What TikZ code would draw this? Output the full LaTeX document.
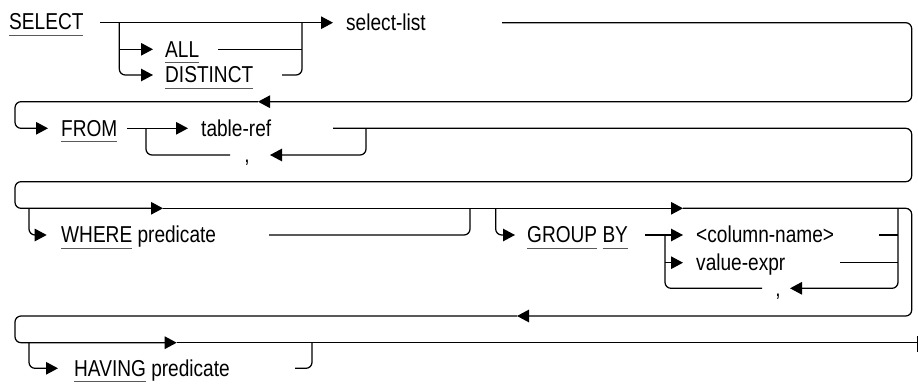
\documentclass[tikz,border=0pt]{standalone}
\usepackage{fontspec}
\setmainfont{Liberation Sans}[FakeStretch=0.83]
\usetikzlibrary{arrows.meta,calc}
\newcommand\kw[1]{\setbox0\hbox{#1}\rlap{\textcolor{black!65}{\rule[-6.2pt]{\wd0}{0.9pt}}}\box0\relax}
\tikzset{
  ln/.style={line width=1.25pt, draw=black},
  rc/.style={rounded corners=6pt},
  arr/.style={-{Triangle[length=12pt,width=12.5pt]}},
  txt/.style={anchor=base west, inner sep=0pt, font=\fontsize{23}{27}\selectfont},
  cmt/.style={anchor=base, inner sep=0pt, font=\fontsize{23}{27}\selectfont}
}
\begin{document}
\begin{tikzpicture}[x=1pt,y=-1pt]
\useasboundingbox (0,0) rectangle (918,383);
% ---------- texts
\node[txt] (tselect) at (9,29.3) {\kw{SELECT}};
\node[txt] (tsl) at (346,30.5) {select-list};
\node[txt] (tall) at (165,57.1) {\kw{ALL}};
\node[txt] (tdist) at (165,82.8) {\kw{DISTINCT}};
\node[txt] (tfrom) at (61,136.1) {\kw{FROM}};
\node[txt] (ttr) at (201,136.1) {table-ref};
\node[cmt] (tc1) at (247,162.8) {,};
\node[txt] (twhere) at (61,242.8) {\kw{WHERE} predicate};
\node[txt] (tgroup) at (527,242.8) {\kw{GROUP} \kw{BY}};
\node[txt] (tcn) at (696,242.8) {<column-name>};
\node[txt] (tve) at (696,270.5) {value-expr};
\node[cmt] (tc2) at (778,296.1) {,};
\node[txt] (thaving) at (74,376.1) {\kw{HAVING} predicate};
% ---------- coordinates row 1
\coordinate (s0) at (100,22.7);
\coordinate (sa) at (333,22.7);
\coordinate (b1) at (119.3,22.7);
\coordinate (allA) at (153,49.3);
\coordinate (disA) at (153,75);
\coordinate (allE) at (218,49.3);
\coordinate (disE) at (282,75);
\coordinate (r1) at (302,22.7);
\coordinate (slE) at (502,22.7);
\coordinate (R1b) at (911.7,101.7);
\coordinate (ret1) at (258,101.7);
\coordinate (c1) at (15,101.7);
\coordinate (fromA) at (48,128.3);
% row 2
\coordinate (fromE) at (127,128.3);
\coordinate (trA) at (188,128.3);
\coordinate (lp1) at (146,128.3);
\coordinate (cm1L) at (230,155);
\coordinate (trE) at (333,128.3);
\coordinate (lp2) at (366,128.3);
\coordinate (cm1A) at (270,155);
\coordinate (R2b) at (911.7,181.7);
\coordinate (c2) at (15,181.7);
\coordinate (wA) at (163,208.3);
% row 3
\coordinate (wbr) at (29,208.3);
\coordinate (whA) at (46.7,235);
\coordinate (whE) at (269,235);
\coordinate (wR) at (470,208.3);
\coordinate (gbr) at (495.7,208.3);
\coordinate (gA) at (515,235);
\coordinate (gE) at (645,235);
\coordinate (cnA) at (683,235);
\coordinate (vbr) at (665,235);
\coordinate (veA) at (683,262.7);
\coordinate (cm2L) at (762,288.3);
\coordinate (ivr) at (898,208.3);
\coordinate (cm2A) at (790,288.3);
\coordinate (cnE) at (879,235);
\coordinate (veE) at (840,262.7);
\coordinate (mA) at (683,208.3);
\coordinate (R3b) at (911.7,316);
\coordinate (ret3) at (517,316);
\coordinate (c3) at (15,316);
\coordinate (hA) at (176.7,342.7);
\coordinate (endp) at (917.3,342.7);
\coordinate (endT) at (917.3,336);
\coordinate (endB) at (917.3,351.7);
% row 4
\coordinate (hbr) at (29,342.7);
\coordinate (haA) at (58,368.3);
\coordinate (haE) at (295,368.3);
\coordinate (hR) at (312,342.7);
% ---------- row 1
\draw[ln,arr] (s0) -- (sa);
\draw[ln,rc,arr] (b1) |- (disA);
\draw[ln,arr] (b1 |- allA) -- (allA);
\draw[ln,rc] (disE) -| (r1);
\draw[ln] (allE) -- (allE -| r1);
\draw[ln,rc,arr] (slE) -| (R1b) -- (ret1);
\draw[ln,rc,arr] (ret1) -- (c1) |- (fromA);
% ---------- row 2
\draw[ln,arr] (fromE) -- (trA);
\draw[ln,rc] (lp1) |- (cm1L);
\draw[ln,rc,arr] (lp2) |- (cm1A);
\draw[ln,rc,arr] (trE) -| (R2b) -- (c2) |- (wA);
% ---------- row 3
\draw[ln,rc,arr] (wbr) |- (whA);
\draw[ln,rc] (whE) -| (wR);
\draw[ln,rc,arr] (gbr) |- (gA);
\draw[ln,arr] (gE) -- (cnA);
\draw[ln,rc] (vbr) |- (cm2L);
\draw[ln,arr] (vbr |- veA) -- (veA);
\draw[ln,rc,arr] (ivr) |- (cm2A);
\draw[ln] (cnE) -- (cnE -| ivr);
\draw[ln] (veE) -- (veE -| ivr);
\draw[ln,arr] (wA) -- (mA);
\draw[ln,rc,arr] (mA) -| (R3b) -- (ret3);
\draw[ln,rc,arr] (ret3) -- (c3) |- (hA);
\draw[ln] (hA) -- (endp);
\draw[line width=0.8pt] (endT) -- (endB);
% ---------- row 4
\draw[ln,rc,arr] (hbr) |- (haA);
\draw[ln,rc] (haE) -| (hR);
\end{tikzpicture}
\end{document}
